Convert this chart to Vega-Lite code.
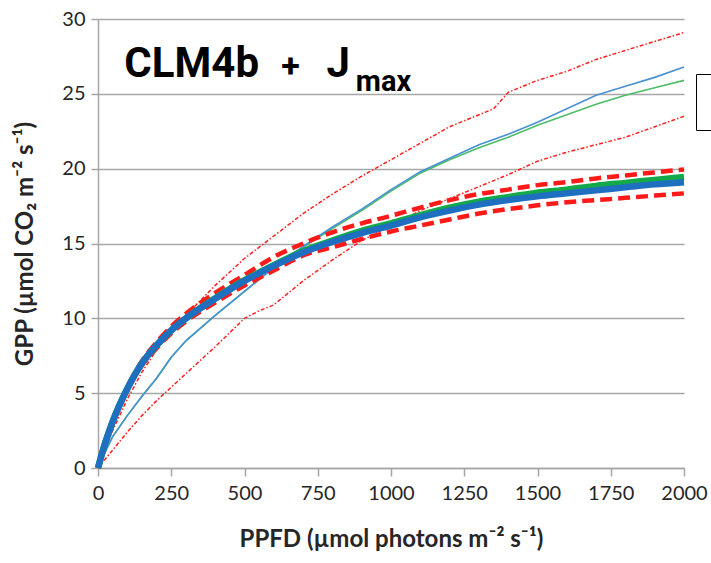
{
  "$schema": "https://vega.github.io/schema/vega-lite/v6.json",
  "width": 586,
  "height": 449,
  "autosize": {"type": "none"},
  "padding": {"left": 98, "top": 19, "right": 27, "bottom": 95},
  "background": "white",
  "config": {"view": {"stroke": null}, "font": "Lato"},
  "datasets": {
    "curves": [
      {"series": "Model", "ppfd": 0, "gpp": 0}, {"series": "Model", "ppfd": 25, "gpp": 1.7}, {"series": "Model", "ppfd": 50, "gpp": 3.1}, {"series": "Model", "ppfd": 100, "gpp": 5.3}, {"series": "Model", "ppfd": 150, "gpp": 7.0}, {"series": "Model", "ppfd": 200, "gpp": 8.2}, {"series": "Model", "ppfd": 250, "gpp": 9.2}, {"series": "Model", "ppfd": 300, "gpp": 10.0}, {"series": "Model", "ppfd": 400, "gpp": 11.3}, {"series": "Model", "ppfd": 500, "gpp": 12.5}, {"series": "Model", "ppfd": 600, "gpp": 13.5}, {"series": "Model", "ppfd": 700, "gpp": 14.4}, {"series": "Model", "ppfd": 800, "gpp": 15.1}, {"series": "Model", "ppfd": 900, "gpp": 15.7}, {"series": "Model", "ppfd": 1000, "gpp": 16.2}, {"series": "Model", "ppfd": 1100, "gpp": 16.75}, {"series": "Model", "ppfd": 1200, "gpp": 17.2}, {"series": "Model", "ppfd": 1300, "gpp": 17.6}, {"series": "Model", "ppfd": 1400, "gpp": 17.9}, {"series": "Model", "ppfd": 1500, "gpp": 18.15}, {"series": "Model", "ppfd": 1600, "gpp": 18.35}, {"series": "Model", "ppfd": 1700, "gpp": 18.55}, {"series": "Model", "ppfd": 1800, "gpp": 18.75}, {"series": "Model", "ppfd": 1900, "gpp": 18.95}, {"series": "Model", "ppfd": 2000, "gpp": 19.1},

      {"series": "Model (alt)", "ppfd": 0, "gpp": 0}, {"series": "Model (alt)", "ppfd": 25, "gpp": 1.7}, {"series": "Model (alt)", "ppfd": 50, "gpp": 3.1}, {"series": "Model (alt)", "ppfd": 100, "gpp": 5.3}, {"series": "Model (alt)", "ppfd": 150, "gpp": 7.0}, {"series": "Model (alt)", "ppfd": 200, "gpp": 8.2}, {"series": "Model (alt)", "ppfd": 250, "gpp": 9.2}, {"series": "Model (alt)", "ppfd": 300, "gpp": 10.0}, {"series": "Model (alt)", "ppfd": 400, "gpp": 11.35}, {"series": "Model (alt)", "ppfd": 500, "gpp": 12.55}, {"series": "Model (alt)", "ppfd": 600, "gpp": 13.55}, {"series": "Model (alt)", "ppfd": 700, "gpp": 14.5}, {"series": "Model (alt)", "ppfd": 800, "gpp": 15.2}, {"series": "Model (alt)", "ppfd": 900, "gpp": 15.85}, {"series": "Model (alt)", "ppfd": 1000, "gpp": 16.35}, {"series": "Model (alt)", "ppfd": 1100, "gpp": 16.9}, {"series": "Model (alt)", "ppfd": 1200, "gpp": 17.4}, {"series": "Model (alt)", "ppfd": 1300, "gpp": 17.8}, {"series": "Model (alt)", "ppfd": 1400, "gpp": 18.1}, {"series": "Model (alt)", "ppfd": 1500, "gpp": 18.4}, {"series": "Model (alt)", "ppfd": 1600, "gpp": 18.6}, {"series": "Model (alt)", "ppfd": 1700, "gpp": 18.85}, {"series": "Model (alt)", "ppfd": 1800, "gpp": 19.05}, {"series": "Model (alt)", "ppfd": 1900, "gpp": 19.25}, {"series": "Model (alt)", "ppfd": 2000, "gpp": 19.45},

      {"series": "Model +1σ", "ppfd": 0, "gpp": 0}, {"series": "Model +1σ", "ppfd": 25, "gpp": 1.7}, {"series": "Model +1σ", "ppfd": 50, "gpp": 3.15}, {"series": "Model +1σ", "ppfd": 100, "gpp": 5.4}, {"series": "Model +1σ", "ppfd": 150, "gpp": 7.15}, {"series": "Model +1σ", "ppfd": 200, "gpp": 8.4}, {"series": "Model +1σ", "ppfd": 250, "gpp": 9.45}, {"series": "Model +1σ", "ppfd": 300, "gpp": 10.3}, {"series": "Model +1σ", "ppfd": 400, "gpp": 11.7}, {"series": "Model +1σ", "ppfd": 500, "gpp": 12.9}, {"series": "Model +1σ", "ppfd": 600, "gpp": 14.1}, {"series": "Model +1σ", "ppfd": 700, "gpp": 15.0}, {"series": "Model +1σ", "ppfd": 800, "gpp": 15.75}, {"series": "Model +1σ", "ppfd": 900, "gpp": 16.35}, {"series": "Model +1σ", "ppfd": 1000, "gpp": 16.85}, {"series": "Model +1σ", "ppfd": 1100, "gpp": 17.4}, {"series": "Model +1σ", "ppfd": 1200, "gpp": 17.9}, {"series": "Model +1σ", "ppfd": 1300, "gpp": 18.3}, {"series": "Model +1σ", "ppfd": 1400, "gpp": 18.6}, {"series": "Model +1σ", "ppfd": 1500, "gpp": 18.9}, {"series": "Model +1σ", "ppfd": 1600, "gpp": 19.1}, {"series": "Model +1σ", "ppfd": 1700, "gpp": 19.35}, {"series": "Model +1σ", "ppfd": 1800, "gpp": 19.55}, {"series": "Model +1σ", "ppfd": 1900, "gpp": 19.75}, {"series": "Model +1σ", "ppfd": 2000, "gpp": 19.95},

      {"series": "Model −1σ", "ppfd": 0, "gpp": 0}, {"series": "Model −1σ", "ppfd": 25, "gpp": 1.6}, {"series": "Model −1σ", "ppfd": 50, "gpp": 3.0}, {"series": "Model −1σ", "ppfd": 100, "gpp": 5.2}, {"series": "Model −1σ", "ppfd": 150, "gpp": 6.85}, {"series": "Model −1σ", "ppfd": 200, "gpp": 8.0}, {"series": "Model −1σ", "ppfd": 250, "gpp": 9.0}, {"series": "Model −1σ", "ppfd": 300, "gpp": 9.8}, {"series": "Model −1σ", "ppfd": 400, "gpp": 11.05}, {"series": "Model −1σ", "ppfd": 500, "gpp": 12.2}, {"series": "Model −1σ", "ppfd": 600, "gpp": 13.2}, {"series": "Model −1σ", "ppfd": 700, "gpp": 14.2}, {"series": "Model −1σ", "ppfd": 800, "gpp": 14.75}, {"series": "Model −1σ", "ppfd": 900, "gpp": 15.3}, {"series": "Model −1σ", "ppfd": 1000, "gpp": 15.8}, {"series": "Model −1σ", "ppfd": 1100, "gpp": 16.2}, {"series": "Model −1σ", "ppfd": 1200, "gpp": 16.6}, {"series": "Model −1σ", "ppfd": 1300, "gpp": 17.0}, {"series": "Model −1σ", "ppfd": 1400, "gpp": 17.3}, {"series": "Model −1σ", "ppfd": 1500, "gpp": 17.55}, {"series": "Model −1σ", "ppfd": 1600, "gpp": 17.75}, {"series": "Model −1σ", "ppfd": 1700, "gpp": 17.9}, {"series": "Model −1σ", "ppfd": 1800, "gpp": 18.05}, {"series": "Model −1σ", "ppfd": 1900, "gpp": 18.2}, {"series": "Model −1σ", "ppfd": 2000, "gpp": 18.35},

      {"series": "Jmax", "ppfd": 0, "gpp": 0}, {"series": "Jmax", "ppfd": 25, "gpp": 1.1}, {"series": "Jmax", "ppfd": 50, "gpp": 2.1}, {"series": "Jmax", "ppfd": 100, "gpp": 3.5}, {"series": "Jmax", "ppfd": 150, "gpp": 4.8}, {"series": "Jmax", "ppfd": 200, "gpp": 6.0}, {"series": "Jmax", "ppfd": 250, "gpp": 7.4}, {"series": "Jmax", "ppfd": 300, "gpp": 8.5}, {"series": "Jmax", "ppfd": 400, "gpp": 10.2}, {"series": "Jmax", "ppfd": 500, "gpp": 11.8}, {"series": "Jmax", "ppfd": 600, "gpp": 13.4}, {"series": "Jmax", "ppfd": 700, "gpp": 14.8}, {"series": "Jmax", "ppfd": 800, "gpp": 16.1}, {"series": "Jmax", "ppfd": 900, "gpp": 17.3}, {"series": "Jmax", "ppfd": 1000, "gpp": 18.6}, {"series": "Jmax", "ppfd": 1100, "gpp": 19.8}, {"series": "Jmax", "ppfd": 1200, "gpp": 20.7}, {"series": "Jmax", "ppfd": 1300, "gpp": 21.6}, {"series": "Jmax", "ppfd": 1400, "gpp": 22.3}, {"series": "Jmax", "ppfd": 1500, "gpp": 23.1}, {"series": "Jmax", "ppfd": 1600, "gpp": 24.0}, {"series": "Jmax", "ppfd": 1700, "gpp": 24.9}, {"series": "Jmax", "ppfd": 1800, "gpp": 25.5}, {"series": "Jmax", "ppfd": 1900, "gpp": 26.1}, {"series": "Jmax", "ppfd": 2000, "gpp": 26.8},

      {"series": "Jmax (alt)", "ppfd": 0, "gpp": 0}, {"series": "Jmax (alt)", "ppfd": 25, "gpp": 1.1}, {"series": "Jmax (alt)", "ppfd": 50, "gpp": 2.1}, {"series": "Jmax (alt)", "ppfd": 100, "gpp": 3.5}, {"series": "Jmax (alt)", "ppfd": 150, "gpp": 4.8}, {"series": "Jmax (alt)", "ppfd": 200, "gpp": 6.0}, {"series": "Jmax (alt)", "ppfd": 250, "gpp": 7.4}, {"series": "Jmax (alt)", "ppfd": 300, "gpp": 8.5}, {"series": "Jmax (alt)", "ppfd": 400, "gpp": 10.2}, {"series": "Jmax (alt)", "ppfd": 500, "gpp": 11.8}, {"series": "Jmax (alt)", "ppfd": 600, "gpp": 13.4}, {"series": "Jmax (alt)", "ppfd": 700, "gpp": 14.75}, {"series": "Jmax (alt)", "ppfd": 800, "gpp": 16.0}, {"series": "Jmax (alt)", "ppfd": 900, "gpp": 17.2}, {"series": "Jmax (alt)", "ppfd": 1000, "gpp": 18.5}, {"series": "Jmax (alt)", "ppfd": 1100, "gpp": 19.7}, {"series": "Jmax (alt)", "ppfd": 1200, "gpp": 20.6}, {"series": "Jmax (alt)", "ppfd": 1300, "gpp": 21.4}, {"series": "Jmax (alt)", "ppfd": 1400, "gpp": 22.1}, {"series": "Jmax (alt)", "ppfd": 1500, "gpp": 22.9}, {"series": "Jmax (alt)", "ppfd": 1600, "gpp": 23.6}, {"series": "Jmax (alt)", "ppfd": 1700, "gpp": 24.3}, {"series": "Jmax (alt)", "ppfd": 1800, "gpp": 24.9}, {"series": "Jmax (alt)", "ppfd": 1900, "gpp": 25.4}, {"series": "Jmax (alt)", "ppfd": 2000, "gpp": 25.9},

      {"series": "Jmax +1σ", "ppfd": 0, "gpp": 0}, {"series": "Jmax +1σ", "ppfd": 25, "gpp": 1.3}, {"series": "Jmax +1σ", "ppfd": 50, "gpp": 2.5}, {"series": "Jmax +1σ", "ppfd": 100, "gpp": 4.6}, {"series": "Jmax +1σ", "ppfd": 150, "gpp": 6.4}, {"series": "Jmax +1σ", "ppfd": 200, "gpp": 7.9}, {"series": "Jmax +1σ", "ppfd": 250, "gpp": 9.1}, {"series": "Jmax +1σ", "ppfd": 300, "gpp": 10.2}, {"series": "Jmax +1σ", "ppfd": 400, "gpp": 12.2}, {"series": "Jmax +1σ", "ppfd": 500, "gpp": 14.0}, {"series": "Jmax +1σ", "ppfd": 600, "gpp": 15.5}, {"series": "Jmax +1σ", "ppfd": 700, "gpp": 17.0}, {"series": "Jmax +1σ", "ppfd": 800, "gpp": 18.3}, {"series": "Jmax +1σ", "ppfd": 900, "gpp": 19.5}, {"series": "Jmax +1σ", "ppfd": 1000, "gpp": 20.6}, {"series": "Jmax +1σ", "ppfd": 1100, "gpp": 21.7}, {"series": "Jmax +1σ", "ppfd": 1200, "gpp": 22.8}, {"series": "Jmax +1σ", "ppfd": 1300, "gpp": 23.6}, {"series": "Jmax +1σ", "ppfd": 1350, "gpp": 24.0}, {"series": "Jmax +1σ", "ppfd": 1400, "gpp": 25.1}, {"series": "Jmax +1σ", "ppfd": 1500, "gpp": 25.9}, {"series": "Jmax +1σ", "ppfd": 1600, "gpp": 26.5}, {"series": "Jmax +1σ", "ppfd": 1700, "gpp": 27.3}, {"series": "Jmax +1σ", "ppfd": 1800, "gpp": 27.9}, {"series": "Jmax +1σ", "ppfd": 1900, "gpp": 28.5}, {"series": "Jmax +1σ", "ppfd": 2000, "gpp": 29.1},

      {"series": "Jmax −1σ", "ppfd": 0, "gpp": 0}, {"series": "Jmax −1σ", "ppfd": 25, "gpp": 0.6}, {"series": "Jmax −1σ", "ppfd": 50, "gpp": 1.2}, {"series": "Jmax −1σ", "ppfd": 100, "gpp": 2.4}, {"series": "Jmax −1σ", "ppfd": 150, "gpp": 3.5}, {"series": "Jmax −1σ", "ppfd": 200, "gpp": 4.5}, {"series": "Jmax −1σ", "ppfd": 250, "gpp": 5.4}, {"series": "Jmax −1σ", "ppfd": 300, "gpp": 6.3}, {"series": "Jmax −1σ", "ppfd": 400, "gpp": 8.1}, {"series": "Jmax −1σ", "ppfd": 500, "gpp": 10.0}, {"series": "Jmax −1σ", "ppfd": 550, "gpp": 10.5}, {"series": "Jmax −1σ", "ppfd": 600, "gpp": 10.9}, {"series": "Jmax −1σ", "ppfd": 700, "gpp": 12.5}, {"series": "Jmax −1σ", "ppfd": 800, "gpp": 13.9}, {"series": "Jmax −1σ", "ppfd": 900, "gpp": 15.2}, {"series": "Jmax −1σ", "ppfd": 1000, "gpp": 16.2}, {"series": "Jmax −1σ", "ppfd": 1100, "gpp": 17.2}, {"series": "Jmax −1σ", "ppfd": 1200, "gpp": 18.0}, {"series": "Jmax −1σ", "ppfd": 1300, "gpp": 18.8}, {"series": "Jmax −1σ", "ppfd": 1400, "gpp": 19.6}, {"series": "Jmax −1σ", "ppfd": 1500, "gpp": 20.5}, {"series": "Jmax −1σ", "ppfd": 1600, "gpp": 21.1}, {"series": "Jmax −1σ", "ppfd": 1700, "gpp": 21.6}, {"series": "Jmax −1σ", "ppfd": 1800, "gpp": 22.1}, {"series": "Jmax −1σ", "ppfd": 1900, "gpp": 22.8}, {"series": "Jmax −1σ", "ppfd": 2000, "gpp": 23.5}
    ],
    "label": [{"main": "CLM4b", "plus": "+", "j": "J", "sub": "max"}]
  },
  "layer": [
    {
      "data": {"name": "curves"},
      "encoding": {
        "x": {
          "field": "ppfd", "type": "quantitative",
          "scale": {"domain": [0, 2000], "nice": false, "zero": true},
          "axis": {
            "values": [0, 250, 500, 750, 1000, 1250, 1500, 1750, 2000],
            "format": "d",
            "title": "PPFD (µmol photons m⁻² s⁻¹)",
            "grid": false,
            "domainColor": "#a6a6a6", "domainWidth": 1.5,
            "tickColor": "#a6a6a6", "tickWidth": 1.5, "tickSize": 8,
            "labelFont": "Lato", "labelFontSize": 20, "labelColor": "#262626", "labelPadding": 7,
            "labelFlush": false, "labelOverlap": false,
            "titleFont": "Lato", "titleFontSize": 24, "titleFontWeight": "bold", "titleColor": "#262626", "titlePadding": 24
          }
        },
        "y": {
          "field": "gpp", "type": "quantitative",
          "scale": {"domain": [0, 30], "nice": false},
          "axis": {
            "values": [0, 5, 10, 15, 20, 25, 30],
            "title": "GPP (µmol CO₂ m⁻² s⁻¹)",
            "grid": true, "gridColor": "#a6a6a6", "gridWidth": 1.5,
            "domainColor": "#a6a6a6", "domainWidth": 1.5,
            "tickColor": "#a6a6a6", "tickWidth": 1.5, "tickSize": 7,
            "labelFont": "Lato", "labelFontSize": 20, "labelColor": "#262626", "labelPadding": 6,
            "labelFlush": false, "labelOverlap": false,
            "titleFont": "Lato", "titleFontSize": 24, "titleFontWeight": "bold", "titleColor": "#262626", "titlePadding": 24
          }
        },
        "color": {
          "field": "series", "type": "nominal",
          "scale": {
            "domain": ["Model", "Model (alt)", "Model +1σ", "Model −1σ", "Jmax", "Jmax (alt)", "Jmax +1σ", "Jmax −1σ"],
            "range": ["#1f6fc0", "#13a84a", "#ff1a1a", "#ff1a1a", "#4a90d4", "#4cbd68", "#ff2020", "#ff2020"]
          },
          "legend": {
            "orient": "none", "legendX": 598, "legendY": 55,
            "values": ["Model"], "title": null,
            "strokeColor": "#000000", "padding": 21,
            "labelFontSize": 14, "symbolType": "stroke", "symbolStrokeWidth": 3
          }
        },
        "detail": {"field": "series"}
      },
      "layer": [
        {
          "transform": [{"filter": {"field": "series", "oneOf": ["Jmax +1σ", "Jmax −1σ"]}}],
          "mark": {"type": "line", "strokeWidth": 1.5, "strokeDash": [4, 2, 1.5, 2]}
        },
        {
          "transform": [{"filter": {"field": "series", "equal": "Jmax (alt)"}}],
          "mark": {"type": "line", "strokeWidth": 1.6}
        },
        {
          "transform": [{"filter": {"field": "series", "equal": "Jmax"}}],
          "mark": {"type": "line", "strokeWidth": 1.6}
        },
        {
          "transform": [{"filter": {"field": "series", "oneOf": ["Model +1σ", "Model −1σ"]}}],
          "mark": {"type": "line", "strokeWidth": 4.5, "strokeDash": [12, 6], "interpolate": "monotone"}
        },
        {
          "transform": [{"filter": {"field": "series", "equal": "Model (alt)"}}],
          "mark": {"type": "line", "strokeWidth": 6.5, "interpolate": "monotone"}
        },
        {
          "transform": [{"filter": {"field": "series", "equal": "Model"}}],
          "mark": {"type": "line", "strokeWidth": 6.5, "interpolate": "monotone"}
        }
      ]
    },
    {
      "data": {"name": "label"},
      "mark": {"type": "text", "align": "left", "baseline": "alphabetic", "font": "Roboto", "fontWeight": "bold", "fontSize": 42, "color": "#000000"},
      "encoding": {"x": {"datum": 90}, "y": {"datum": 26.1}, "text": {"field": "main"}}
    },
    {
      "data": {"name": "label"},
      "mark": {"type": "text", "align": "left", "baseline": "alphabetic", "font": "Roboto", "fontWeight": "bold", "fontSize": 34, "color": "#000000"},
      "encoding": {"x": {"datum": 625}, "y": {"datum": 26.15}, "text": {"field": "plus"}}
    },
    {
      "data": {"name": "label"},
      "mark": {"type": "text", "align": "left", "baseline": "alphabetic", "font": "Roboto", "fontWeight": "bold", "fontSize": 42, "color": "#000000"},
      "encoding": {"x": {"datum": 780}, "y": {"datum": 26.1}, "text": {"field": "j"}}
    },
    {
      "data": {"name": "label"},
      "mark": {"type": "text", "align": "left", "baseline": "alphabetic", "font": "Roboto", "fontWeight": "bold", "fontSize": 29, "color": "#000000"},
      "encoding": {"x": {"datum": 880}, "y": {"datum": 25.2}, "text": {"field": "sub"}}
    }
  ]
}
